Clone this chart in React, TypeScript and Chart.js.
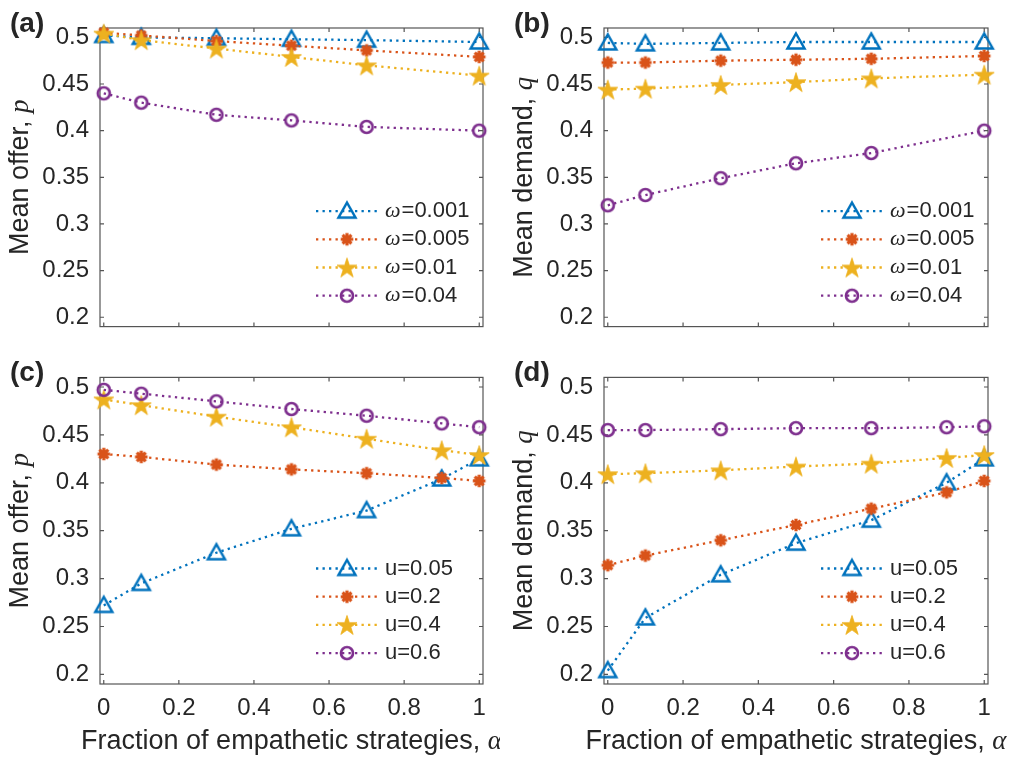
import React, { useEffect, useRef } from 'react';
import { Chart, registerables } from 'chart.js';

Chart.register(...registerables);

// ---------- data ----------
const alphaTop = [0, 0.1, 0.3, 0.5, 0.7, 1];
const alphaBottom = [0, 0.1, 0.3, 0.5, 0.7, 0.9, 1];

const offerOmega001 = [0.502, 0.5, 0.499, 0.498, 0.497, 0.495];
const offerOmega005 = [0.505, 0.502, 0.496, 0.491, 0.486, 0.479];
const offerOmega01 = [0.504, 0.497, 0.488, 0.479, 0.47, 0.459];
const offerOmega04 = [0.44, 0.43, 0.417, 0.411, 0.404, 0.4];

const demandOmega001 = [0.494, 0.493, 0.494, 0.495, 0.495, 0.495];
const demandOmega005 = [0.473, 0.473, 0.475, 0.476, 0.477, 0.48];
const demandOmega01 = [0.444, 0.445, 0.449, 0.452, 0.456, 0.46];
const demandOmega04 = [0.32, 0.331, 0.349, 0.365, 0.376, 0.4];

const offerU005 = [0.272, 0.295, 0.327, 0.352, 0.371, 0.404, 0.425];
const offerU02 = [0.43, 0.427, 0.419, 0.414, 0.41, 0.405, 0.402];
const offerU04 = [0.487, 0.481, 0.469, 0.458, 0.446, 0.434, 0.429];
const offerU06 = [0.497, 0.493, 0.485, 0.477, 0.47, 0.462, 0.458];

const demandU005 = [0.204, 0.259, 0.304, 0.337, 0.361, 0.4, 0.425];
const demandU02 = [0.314, 0.324, 0.34, 0.356, 0.373, 0.39, 0.402];
const demandU04 = [0.409, 0.41, 0.413, 0.417, 0.42, 0.426, 0.429];
const demandU06 = [0.455, 0.455, 0.456, 0.457, 0.457, 0.458, 0.459];

const omegaLabels = ['ω=0.001', 'ω=0.005', 'ω=0.01', 'ω=0.04'];
const uLabels = ['u=0.05', 'u=0.2', 'u=0.4', 'u=0.6'];

const xTicks = [0, 0.2, 0.4, 0.6, 0.8, 1];
const yTicks = [0.2, 0.25, 0.3, 0.35, 0.4, 0.45, 0.5];

const xTitle = ['Fraction of empathetic strategies, ', 'α'];
const offerTitle = ['Mean offer, ', 'p'];
const demandTitle = ['Mean demand, ', 'q'];

// ---------- styles ----------
const SANS = "'Liberation Sans', Arial, Helvetica, sans-serif";
const SERIF = "'Liberation Serif', 'Times New Roman', serif";
const TEXT = '#262626';
const AXIS = '#555555';
const COLORS = ['#0072BD', '#D95319', '#EDB120', '#7E2F8E'];
const KINDS = ['triangle', 'asterisk', 'pentagram', 'circle'];
const LINE_W = 2.3;
const DASH = [2.3, 4.2];

function makeMarker(kind: string, color: string): HTMLCanvasElement {
  const c = document.createElement('canvas');
  const size = 28;
  c.width = size;
  c.height = size;
  const g = c.getContext('2d')!;
  const m = size / 2;
  g.strokeStyle = color;
  g.fillStyle = color;
  if (kind === 'triangle') {
    g.lineWidth = 2.5;
    g.lineJoin = 'miter';
    g.beginPath();
    g.moveTo(m, m - 8.5);
    g.lineTo(m + 8.5, m + 6.5);
    g.lineTo(m - 8.5, m + 6.5);
    g.closePath();
    g.stroke();
  } else if (kind === 'asterisk') {
    g.lineWidth = 3.2;
    g.beginPath();
    const r = 6.3;
    for (let k = 0; k < 4; k++) {
      const a = (k * Math.PI) / 4;
      g.moveTo(m - Math.cos(a) * r, m - Math.sin(a) * r);
      g.lineTo(m + Math.cos(a) * r, m + Math.sin(a) * r);
    }
    g.stroke();
  } else if (kind === 'pentagram') {
    const R = 10.5;
    const ri = R * 0.382;
    g.beginPath();
    for (let k = 0; k < 10; k++) {
      const rr = k % 2 === 0 ? R : ri;
      const a = -Math.PI / 2 + (k * Math.PI) / 5;
      const px = m + Math.cos(a) * rr;
      const py = m + 1 + Math.sin(a) * rr;
      if (k === 0) g.moveTo(px, py);
      else g.lineTo(px, py);
    }
    g.closePath();
    g.fill();
    g.lineWidth = 0.8;
    g.stroke();
  } else {
    g.lineWidth = 2.7;
    g.beginPath();
    g.arc(m, m, 6, 0, Math.PI * 2);
    g.stroke();
  }
  return c;
}

type Box = { left: number; top: number; width: number; height: number };
type Area = { left: number; top: number; right: number; bottom: number };
type PanelDef = {
  letter: string;
  alpha: number[];
  series: number[][];
  labels: string[];
  yTitle: string[];
  showX: boolean;
  cv: Box;
  area: Area;
};

const panels: PanelDef[] = [
  {
    letter: '(a)',
    alpha: alphaTop,
    series: [offerOmega001, offerOmega005, offerOmega01, offerOmega04],
    labels: omegaLabels,
    yTitle: offerTitle,
    showX: false,
    cv: { left: 0, top: 0, width: 500, height: 352 },
    area: { left: 100, top: 28, right: 483, bottom: 347 },
  },
  {
    letter: '(b)',
    alpha: alphaTop,
    series: [demandOmega001, demandOmega005, demandOmega01, demandOmega04],
    labels: omegaLabels,
    yTitle: demandTitle,
    showX: false,
    cv: { left: 500, top: 0, width: 522, height: 352 },
    area: { left: 604, top: 28, right: 988, bottom: 347 },
  },
  {
    letter: '(c)',
    alpha: alphaBottom,
    series: [offerU005, offerU02, offerU04, offerU06],
    labels: uLabels,
    yTitle: offerTitle,
    showX: true,
    cv: { left: 0, top: 352, width: 500, height: 413 },
    area: { left: 100, top: 365, right: 483, bottom: 684 },
  },
  {
    letter: '(d)',
    alpha: alphaBottom,
    series: [demandU005, demandU02, demandU04, demandU06],
    labels: uLabels,
    yTitle: demandTitle,
    showX: true,
    cv: { left: 500, top: 352, width: 522, height: 413 },
    area: { left: 604, top: 365, right: 988, bottom: 684 },
  },
];

const fmt = (v: number) => String(+Number(v).toFixed(3));

function makeDecorPlugin(def: PanelDef, markers: HTMLCanvasElement[]) {
  return {
    id: 'decor',
    beforeDatasetsDraw(chart: any) {
      const { ctx, chartArea: a, scales } = chart;
      ctx.save();
      ctx.strokeStyle = AXIS;
      ctx.lineWidth = 1.2;
      ctx.strokeRect(a.left, a.top, a.right - a.left, a.bottom - a.top);
      ctx.beginPath();
      const tl = 4;
      xTicks.forEach((v) => {
        const px = scales.x.getPixelForValue(v);
        ctx.moveTo(px, a.bottom);
        ctx.lineTo(px, a.bottom - tl);
        ctx.moveTo(px, a.top);
        ctx.lineTo(px, a.top + tl);
      });
      yTicks.forEach((v) => {
        const py = scales.y.getPixelForValue(v);
        ctx.moveTo(a.left, py);
        ctx.lineTo(a.left + tl, py);
        ctx.moveTo(a.right, py);
        ctx.lineTo(a.right - tl, py);
      });
      ctx.stroke();
      ctx.restore();
    },
    afterDraw(chart: any) {
      const { ctx, chartArea: a } = chart;
      ctx.save();
      ctx.fillStyle = TEXT;
      // panel letter
      ctx.font = `bold 28px ${SANS}`;
      ctx.textAlign = 'left';
      ctx.textBaseline = 'alphabetic';
      ctx.fillText(def.letter, a.left - 90, a.top + 4);

      // y title
      const f1 = `27px ${SANS}`;
      const f2 = `italic 27px ${SERIF}`;
      ctx.save();
      ctx.translate(a.left - 72, (a.top + a.bottom) / 2);
      ctx.rotate(-Math.PI / 2);
      ctx.font = f1;
      const w1 = ctx.measureText(def.yTitle[0]).width;
      ctx.font = f2;
      const w2 = ctx.measureText(def.yTitle[1]).width;
      const x0 = -(w1 + w2) / 2;
      ctx.font = f1;
      ctx.fillText(def.yTitle[0], x0, 0);
      ctx.font = f2;
      ctx.fillText(def.yTitle[1], x0 + w1, 0);
      ctx.restore();

      // x title
      if (def.showX) {
        ctx.font = f1;
        const v1 = ctx.measureText(xTitle[0]).width;
        ctx.font = f2;
        const v2 = ctx.measureText(xTitle[1]).width;
        const sx = (a.left + a.right) / 2 - (v1 + v2) / 2;
        const by = a.bottom + 65;
        ctx.font = f1;
        ctx.fillText(xTitle[0], sx, by);
        ctx.font = f2;
        ctx.fillText(xTitle[1], sx + v1, by);
      }

      // legend
      const lf = `22px ${SANS}`;
      const lfi = `italic 22px ${SERIF}`;
      def.labels.forEach((lab, i) => {
        const y = a.bottom - 115.5 + i * 28.2;
        const ls = a.right - 167;
        const le = a.right - 105;
        ctx.save();
        ctx.strokeStyle = COLORS[i];
        ctx.lineWidth = LINE_W;
        ctx.setLineDash(DASH);
        ctx.beginPath();
        ctx.moveTo(ls, y);
        ctx.lineTo(le, y);
        ctx.stroke();
        ctx.restore();
        const mk = markers[i];
        ctx.drawImage(mk, a.right - 136 - mk.width / 2, y - mk.height / 2);
        ctx.fillStyle = TEXT;
        ctx.textBaseline = 'middle';
        let tx = a.right - 98;
        if (lab.startsWith('ω')) {
          ctx.font = lfi;
          ctx.fillText('ω', tx, y);
          tx += ctx.measureText('ω').width + 1;
          ctx.font = lf;
          ctx.fillText(lab.slice(1), tx, y);
        } else {
          ctx.font = lf;
          ctx.fillText(lab, tx, y);
        }
      });
      ctx.restore();
    },
  };
}

function buildConfig(def: PanelDef): any {
  const markers = KINDS.map((k, i) => makeMarker(k, COLORS[i]));
  const cv = def.cv;
  const area = def.area;
  return {
    type: 'line',
    data: {
      datasets: def.series.map((s, i) => ({
        label: def.labels[i],
        data: def.alpha.map((x, j) => ({ x, y: s[j] })),
        borderColor: COLORS[i],
        backgroundColor: COLORS[i],
        borderWidth: LINE_W,
        borderDash: DASH,
        pointStyle: markers[i],
        pointRadius: 6,
        fill: false,
        tension: 0,
        clip: false,
        order: 4 - i,
      })),
    },
    options: {
      animation: false,
      responsive: false,
      events: [],
      layout: {
        padding: {
          top: area.top - cv.top,
          right: cv.left + cv.width - area.right,
          left: 0,
          bottom: 0,
        },
      },
      scales: {
        x: {
          type: 'linear',
          min: -0.01,
          max: 1.01,
          afterBuildTicks: (s: any) => {
            s.ticks = xTicks.map((v) => ({ value: v }));
          },
          afterFit: (s: any) => {
            s.height = cv.top + cv.height - area.bottom;
          },
          ticks: {
            display: def.showX,
            autoSkip: false,
            maxRotation: 0,
            padding: 10,
            color: TEXT,
            font: { family: SANS, size: 24 },
            callback: (v: number) => fmt(v),
          },
          grid: { display: false, drawTicks: false },
          border: { display: false },
        },
        y: {
          type: 'linear',
          min: 0.19,
          max: 0.51,
          afterBuildTicks: (s: any) => {
            s.ticks = yTicks.map((v) => ({ value: v }));
          },
          afterFit: (s: any) => {
            s.width = area.left - cv.left;
          },
          ticks: {
            autoSkip: false,
            padding: 11,
            color: TEXT,
            font: { family: SANS, size: 24 },
            callback: (v: number) => fmt(v),
          },
          grid: { display: false, drawTicks: false },
          border: { display: false },
        },
      },
      plugins: {
        legend: { display: false },
        tooltip: { enabled: false },
      },
    },
    plugins: [makeDecorPlugin(def, markers)],
  };
}

function Panel({ def }: { def: PanelDef }) {
  const ref = useRef<HTMLCanvasElement>(null);
  useEffect(() => {
    if (!ref.current) return;
    const chart = new Chart(ref.current, buildConfig(def));
    return () => chart.destroy();
  }, [def]);
  return (
    <canvas
      ref={ref}
      width={def.cv.width}
      height={def.cv.height}
      style={{
        position: 'absolute',
        left: def.cv.left,
        top: def.cv.top,
        width: def.cv.width,
        height: def.cv.height,
      }}
    />
  );
}

export default function App() {
  return (
    <div
      style={{
        position: 'absolute',
        left: 0,
        top: 0,
        width: 1022,
        height: 765,
        background: '#ffffff',
        overflow: 'hidden',
      }}
    >
      {panels.map((p) => (
        <Panel key={p.letter} def={p} />
      ))}
    </div>
  );
}
